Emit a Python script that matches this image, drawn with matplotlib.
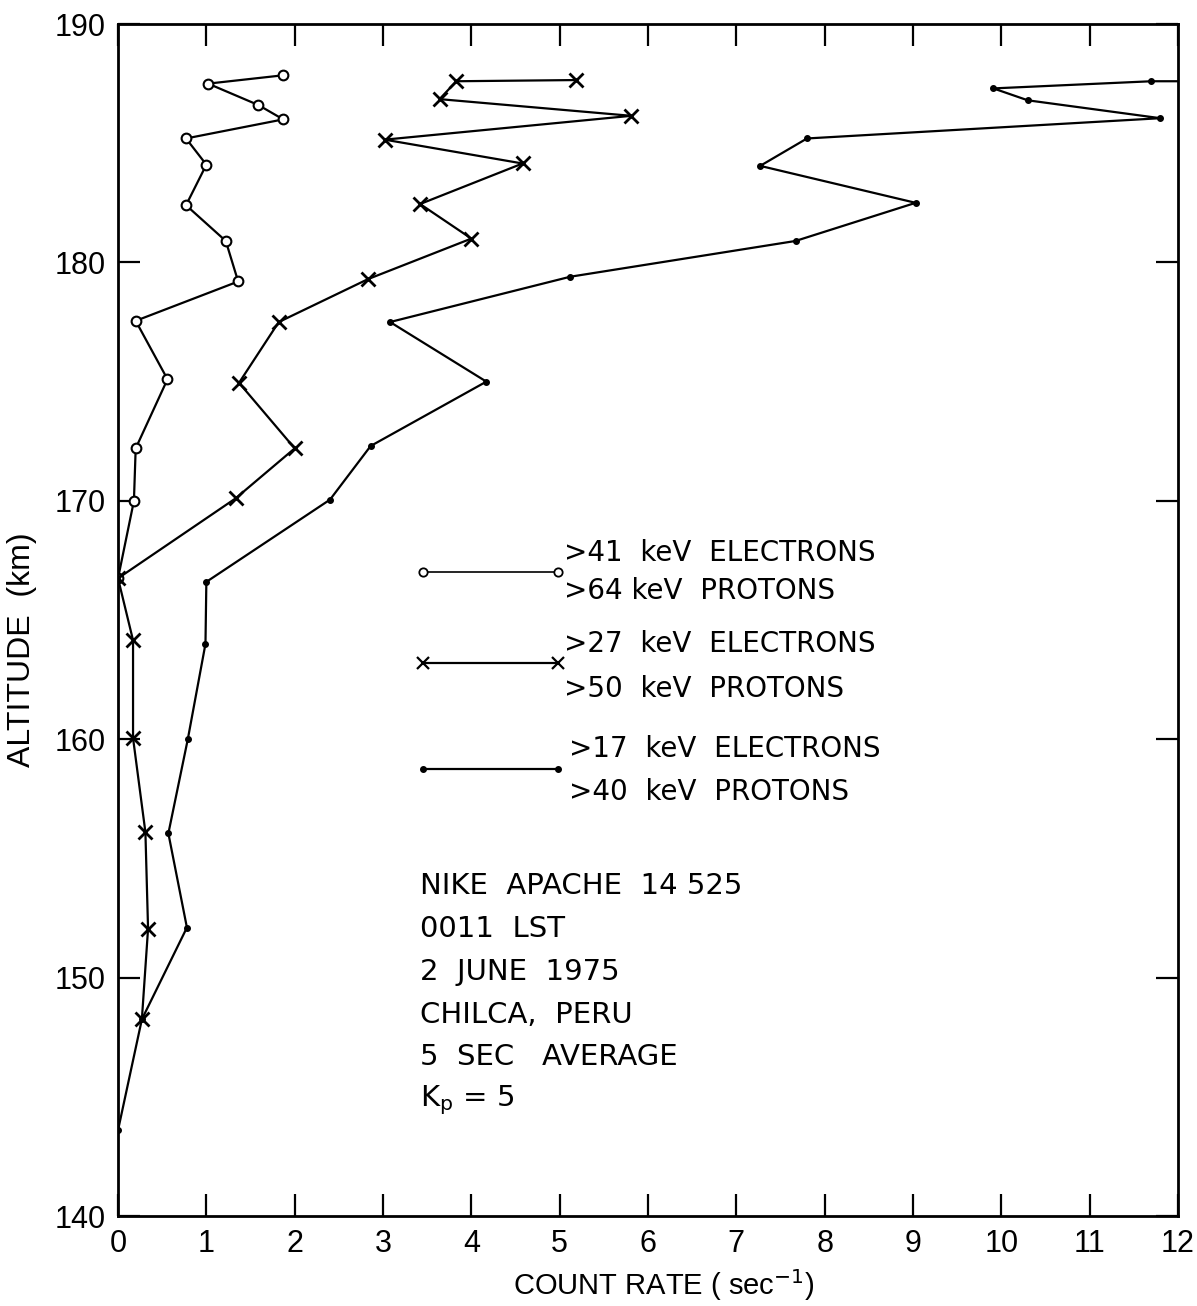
import matplotlib.pyplot as plt

# >41 keV electrons / >64 keV protons (open circles)
alt_41 = [187.85, 187.5, 186.6, 186.0, 185.2, 184.1, 182.4, 180.9, 179.2, 177.55,
          175.1, 172.2, 170.0, 166.75]
rate_41 = [1.87, 1.02, 1.59, 1.87, 0.77, 1.0, 0.77, 1.22, 1.36, 0.2,
           0.56, 0.2, 0.18, 0.0]

# >27 keV electrons / >50 keV protons (crosses)
alt_27 = [187.65, 187.6, 186.85, 186.15, 185.15, 184.15, 182.45, 181.0, 179.3, 177.5,
          174.95, 172.2, 170.1, 166.75, 164.15, 160.05, 156.1, 152.05, 148.25]
rate_27 = [5.19, 3.83, 3.64, 5.81, 3.02, 4.58, 3.42, 4.0, 2.83, 1.82,
           1.37, 2.0, 1.33, 0.0, 0.17, 0.17, 0.31, 0.34, 0.27]

# >17 keV electrons / >40 keV protons (dots)
alt_17 = [187.6, 187.6, 187.3, 186.8, 186.05, 185.2, 184.05, 182.5, 180.9, 179.4,
          177.5, 175.0, 172.3, 170.05, 166.6, 164.0, 160.0, 156.05, 152.1, 148.25, 143.6]
rate_17 = [12.4, 11.7, 9.91, 10.3, 11.8, 7.8, 7.27, 9.03, 7.67, 5.12,
           3.08, 4.17, 2.86, 2.4, 1.0, 0.99, 0.79, 0.57, 0.78, 0.27, 0.0]

legend_41 = ['>41  keV  ELECTRONS', '>64 keV  PROTONS']
legend_27 = ['>27  keV  ELECTRONS', '>50  keV  PROTONS']
legend_17 = ['>17  keV  ELECTRONS', '>40  keV  PROTONS']
info_lines = ['NIKE  APACHE  14 525', '0011  LST', '2  JUNE  1975', 'CHILCA,  PERU',
              '5  SEC   AVERAGE', r'K$_\mathregular{p}$ = 5']


def main():
    plt.rcParams['font.family'] = ['Liberation Sans', 'DejaVu Sans']

    fig = plt.figure(figsize=(11.97, 13.06), dpi=100)
    ax = fig.add_axes([0.0986, 0.0689, 0.8855, 0.9127])

    ax.plot(rate_41, alt_41, color='k', lw=1.6, marker='o', ms=7,
            mfc='white', mec='k', mew=1.5)
    ax.plot(rate_27, alt_27, color='k', lw=1.6, marker='x', ms=10, mew=2.0)
    ax.plot(rate_17, alt_17, color='k', lw=1.6, marker='o', ms=4)

    ax.set_xlim(0, 12)
    ax.set_ylim(140, 190)
    ax.set_xticks(range(0, 13))
    ax.set_yticks(range(140, 191, 10))
    ax.tick_params(direction='in', length=16, width=1.6, labelsize=22,
                   top=True, right=True, pad=9)
    for s in ax.spines.values():
        s.set_linewidth(2)

    ax.set_xlabel(r'COUNT RATE ( sec$^{-1}$)', fontsize=21, va='center')
    ax.xaxis.set_label_coords(0.515, -0.058)
    ax.set_ylabel('ALTITUDE  (km)', fontsize=23)
    ax.yaxis.set_label_coords(-0.076, 0.475)

    # legend drawn by hand, like the original
    ax.plot([3.45, 4.98], [167.0, 167.0], color='k', lw=1.2, marker='o', ms=6,
            mfc='white', mec='k', mew=1.3)
    ax.plot([3.45, 4.98], [163.2, 163.2], color='k', lw=1.6, marker='x', ms=8, mew=1.6)
    ax.plot([3.45, 4.98], [158.75, 158.75], color='k', lw=1.6, marker='o', ms=4)

    tfont = dict(fontsize=20, va='center', family='DejaVu Sans')
    ax.text(5.05, 167.8, legend_41[0], **tfont)
    ax.text(5.05, 166.2, legend_41[1], **tfont)
    ax.text(5.05, 164.0, legend_27[0], **tfont)
    ax.text(5.05, 162.1, legend_27[1], **tfont)
    ax.text(5.1, 159.6, legend_17[0], **tfont)
    ax.text(5.1, 157.8, legend_17[1], **tfont)

    y = 153.85
    for line in info_lines:
        ax.text(3.42, y, line, fontsize=21, va='center', family='DejaVu Sans')
        y -= 1.8

    fig.savefig('out.png', dpi=100)


if __name__ == "__main__":
    main()
